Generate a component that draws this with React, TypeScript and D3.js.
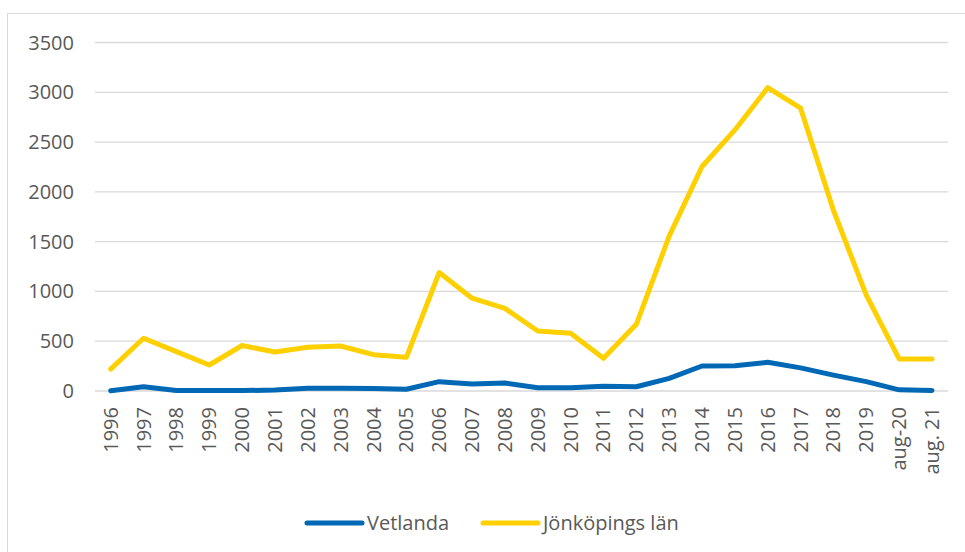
import React from "react";
import * as d3 from "d3";

const categories = ["1996","1997","1998","1999","2000","2001","2002","2003","2004","2005","2006","2007","2008","2009","2010","2011","2012","2013","2014","2015","2016","2017","2018","2019","aug-20","aug. 21"];
const vetlanda = [3,43,5,4,4,10,27,27,24,17,94,70,80,33,33,48,43,127,251,253,288,232,160,94,12,6];
const jonkoping = [220,530,395,261,457,392,440,452,365,338,1190,932,830,603,580,328,670,1555,2255,2622,3046,2840,1815,962,322,322];
const yTicks = [0,500,1000,1500,2000,2500,3000,3500];
const seriesNames = ["Vetlanda","Jönköpings län"];
const seriesColors = ["#0068B4","#FFD000"];

const W = 965, H = 552;
const FONT = "'Open Sans', sans-serif";

export default function App() {
  const x = d3.scalePoint<string>().domain(categories).range([110.7, 932]);
  const y = d3.scaleLinear().domain([0, 3500]).range([391, 42.5]);
  const line = d3.line<number>().x((_, i) => x(categories[i]) as number).y(d => y(d));
  const series = [vetlanda, jonkoping];
  const legendX = [307, 483];
  return (
    <svg width={W} height={H} style={{ position: "absolute", left: 0, top: 0 }} fontFamily={FONT}>
      <rect x={0} y={0} width={W} height={H} fill="#fff" />
      <rect x={7.5} y={13.5} width={W + 10} height={H + 10} fill="none" stroke="#d9d9d9" strokeWidth={1} />
      {yTicks.map(t => (
        <g key={t}>
          <line x1={95} x2={948} y1={y(t)} y2={y(t)} stroke="#d9d9d9" strokeWidth={1.3} />
          <text x={74} y={y(t)} dy="0.35em" textAnchor="end" fontSize={20} fill="#595959">{t}</text>
        </g>
      ))}
      {categories.map(c => (
        <text key={c} transform={`translate(${x(c)},407) rotate(-90)`} textAnchor="end" dy="0.35em" fontSize={20} fill="#595959">{c}</text>
      ))}
      {series.map((s, i) => (
        <path key={i} d={line(s) as string} fill="none" stroke={seriesColors[i]} strokeWidth={5} strokeLinejoin="round" strokeLinecap="round" />
      ))}
      {seriesNames.map((n, i) => (
        <g key={n}>
          <line x1={legendX[i]} x2={legendX[i] + 55} y1={523} y2={523} stroke={seriesColors[i]} strokeWidth={5} strokeLinecap="round" />
          <text x={legendX[i] + 60} y={523} dy="0.35em" fontSize={20} fill="#595959">{n}</text>
        </g>
      ))}
    </svg>
  );
}
